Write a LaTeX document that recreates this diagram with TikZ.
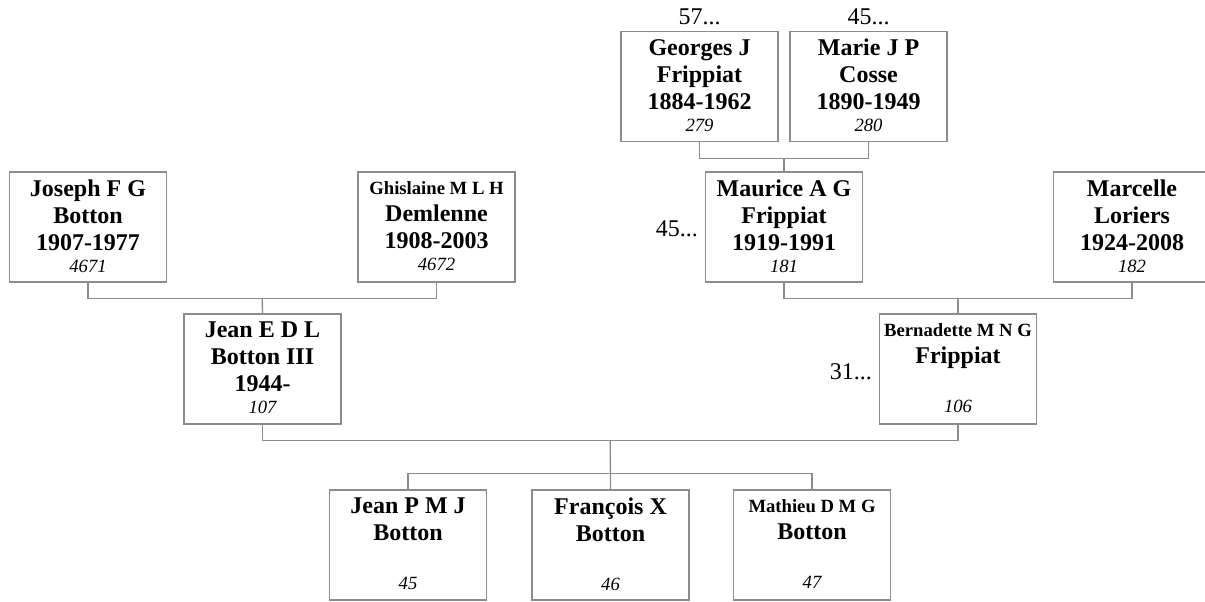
\documentclass[tikz,border=0pt]{standalone}
\usepackage{fontspec}
\setmainfont{Liberation Serif}
\usepackage{tikz}
\usetikzlibrary{positioning,calc}
\definecolor{frame}{HTML}{8C8C8C}
\newcommand{\given}[1]{{\fontsize{14}{16}\selectfont #1}}
\newcommand{\idno}[1]{{\mdseries\itshape\fontsize{14}{16}\selectfont #1\rule[-2pt]{0pt}{2pt}}}

\begin{document}
\begin{tikzpicture}[
  x=0.75pt,y=-0.75pt,
  person/.style={draw=frame,line width=1pt,minimum width=117.75pt,minimum height=82.5pt,inner sep=0pt,align=center,
    font=\bfseries\fontsize{18}{20.25}\selectfont,execute at begin node=\rule{0pt}{13pt}},
  more/.style={inner sep=0pt,font=\fontsize{18}{20}\selectfont},
  link/.style={draw=frame,line width=1pt}
]
  \useasboundingbox (0,0) rectangle (1205,601);
  \node[person] (geo) at (699.5,86.5) {Georges J\\Frippiat\\1884-1962\\[-3.75pt]\idno{279}};
  \node[person] (mar) at (868.5,86.5) {Marie J P\\Cosse\\1890-1949\\[-3.75pt]\idno{280}};
  \node[person] (jos) at (88,227)     {Joseph F G\\Botton\\1907-1977\\[-3.75pt]\idno{4671}};
  \node[person] (ghi) at (436.5,227)  {\given{Ghislaine M L H}\\Demlenne\\1908-2003\\[-3.75pt]\idno{4672}};
  \node[person] (mau) at (784,227)    {Maurice A G\\Frippiat\\1919-1991\\[-3.75pt]\idno{181}};
  \node[person] (mcl) at (1132,227)   {Marcelle\\Loriers\\1924-2008\\[-3.75pt]\idno{182}};
  \node[person] (jea) at (262.5,369)  {Jean E D L\\Botton III\\1944-\\[-3.75pt]\idno{107}};
  \node[person] (ber) at (958,369)    {\given{Bernadette M N G}\\Frippiat\\{}\\[-3.75pt]\idno{106}};
  \node[person] (jpm) at (408,545)    {Jean P M J\\Botton\\{}\\[-3.75pt]\idno{45}};
  \node[person] (fra) at (610.5,545)  {Fran\smash{ç}ois X\\Botton\\{}\\[-3.75pt]\idno{46}};
  \node[person] (mat) at (812,545)    {\given{Mathieu D M G}\\Botton\\{}\\[-3.75pt]\idno{47}};
  % further ancestors
  \node[more,above=4.5pt of geo] (geox) {57...};
  \node[more,above=4.5pt of mar] (marx) {45...};
  \node[more,left=5pt of mau,yshift=-1.5pt] (maux) {45...};
  \node[more,left=5pt of ber,yshift=-2pt] (berx) {31...};
  % couples and children
  \coordinate (u1) at ($(geo.south)!.5!(mar.south)+(0,16)$);
  \coordinate (u2) at ($(jos.south)!.5!(ghi.south)+(0,16)$);
  \coordinate (u3) at ($(mau.south)!.5!(mcl.south)+(0,16)$);
  \coordinate (u4) at ($(jea.south)!.5!(ber.south)+(0,16)$);
  \coordinate (kids) at ($(fra.north)+(0,-16)$);
  \draw[link] (geo.south) |- (u1) -| (mar.south);
  \draw[link] (u1) -- (mau.north);
  \draw[link] (jos.south) |- (u2) -| (ghi.south);
  \draw[link] (u2) -- (jea.north);
  \draw[link] (mau.south) |- (u3) -| (mcl.south);
  \draw[link] (u3) -- (ber.north);
  \draw[link] (jea.south) |- (u4) -| (ber.south);
  \draw[link] (u4) -- (fra.north);
  \draw[link] (jpm.north) |- (kids) -| (mat.north);
\end{tikzpicture}
\end{document}
